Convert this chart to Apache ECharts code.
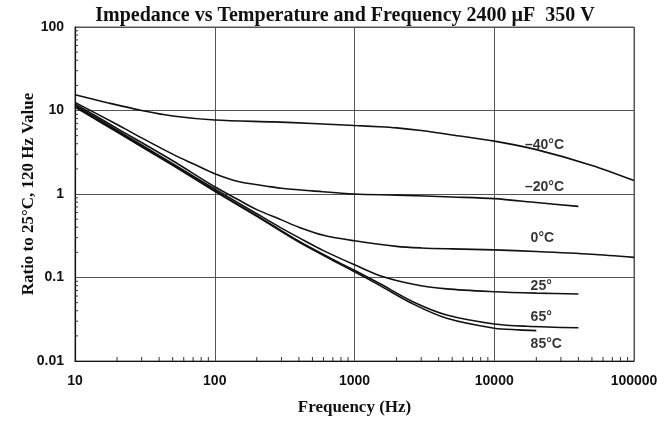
<!DOCTYPE html>
<html>
<head>
<meta charset="utf-8">
<script src="https://cdn.jsdelivr.net/npm/echarts@6/dist/echarts.min.js"></script>
<style>
html,body{margin:0;padding:0;background:#fff;}
#chart{width:668px;height:421px;}
</style>
</head>
<body>
<div id="chart"></div>
<script>
// Data: [frequency Hz, impedance ratio]
const curveM40 = [[10,15.4],[17,12.4],[30,10.0],[50,8.6],[100,7.7],[265,7.3],[500,7.0],[1000,6.6],[1500,6.4],[2000,6.2],[3000,5.75],[5000,5.1],[10000,4.3],[20000,3.4],[50000,2.2],[100000,1.45]];
const curveM20 = [[10,12.5],[20,6.8],[30,4.7],[50,3.0],[70,2.3],[100,1.75],[150,1.4],[236,1.24],[300,1.17],[500,1.09],[1000,1.0],[2000,0.97],[5000,0.92],[10000,0.88],[20000,0.79],[40000,0.71]];
const curve0 = [[10,12],[20,6.1],[50,2.5],[100,1.22],[150,0.84],[200,0.65],[300,0.49],[400,0.40],[600,0.32],[1000,0.275],[2000,0.236],[3000,0.226],[5000,0.22],[10000,0.214],[20000,0.205],[50000,0.19],[100000,0.174]];
const curve25 = [[10,11.5],[20,5.8],[50,2.3],[100,1.15],[200,0.58],[300,0.39],[400,0.30],[600,0.21],[1000,0.142],[1524,0.105],[2637,0.083],[4570,0.073],[10000,0.0676],[20000,0.065],[40000,0.0634]];
const curve65 = [[10,11.2],[20,5.6],[50,2.25],[100,1.1],[200,0.55],[400,0.272],[700,0.165],[1000,0.122],[1524,0.084],[2637,0.051],[4570,0.0356],[10000,0.0278],[17000,0.0261],[40000,0.025]];
const curve85 = [[10,11],[20,5.5],[50,2.2],[100,1.08],[200,0.54],[400,0.265],[700,0.16],[1000,0.117],[1524,0.080],[2637,0.048],[4570,0.0325],[10000,0.0247],[15000,0.0236],[20000,0.0231]];

const curveLabelText = ['\u201340\u00B0C','\u201320\u00B0C','0\u00B0C','25\u00B0','65\u00B0','85\u00B0C'];
const curveLabelAnchor = [[16600,3.84],[16600,1.21],[18200,0.295],[18200,0.0783],[18200,0.0334],[18200,0.016]];

const xMinorTicks = [];
const yMinorTicks = [];
[10,100,1000,10000].forEach(d => { for (let k = 2; k <= 9; k++) xMinorTicks.push(d * k); });
[0.01,0.1,1,10].forEach(d => { for (let k = 2; k <= 9; k++) yMinorTicks.push(+(d * k).toPrecision(3)); });

const chart = echarts.init(document.getElementById('chart'));

function lineSeries(data) {
  return {
    type: 'line', data: data, showSymbol: false, symbol: 'none', smooth: 0.3,
    lineStyle: { color: '#111', width: 1.6 }, z: 5, silent: true
  };
}

const option = {
  backgroundColor: '#fff',
  animation: false,
  title: {
    text: 'Impedance vs Temperature and Frequency 2400 \u00B5F  350 V',
    left: 340, top: 1, textAlign: 'center',
    textStyle: { fontFamily: 'Liberation Serif', fontWeight: 'bold', fontSize: 20, color: '#111' }
  },
  grid: { left: 75, right: 34, top: 27, bottom: 59, show: true, borderColor: '#555', borderWidth: 1 },
  xAxis: {
    type: 'log', logBase: 10, min: 10, max: 100000,
    name: 'Frequency (Hz)', nameLocation: 'middle', nameGap: 38,
    nameTextStyle: { fontFamily: 'Liberation Serif', fontWeight: 'bold', fontSize: 17, color: '#111' },
    axisLine: { lineStyle: { color: '#111', width: 1.2 } },
    axisTick: { show: false },
    axisLabel: { fontFamily: 'Liberation Sans', fontWeight: 'bold', fontSize: 14, color: '#111', margin: 13,
      formatter: v => String(Math.round(v)) },
    splitLine: { show: true, lineStyle: { color: '#555', width: 1 } }
  },
  yAxis: {
    type: 'log', logBase: 10, min: 0.01, max: 100,
    name: 'Ratio to 25\u00B0C, 120 Hz Value', nameLocation: 'middle', nameGap: 38,
    nameMoveOverlap: false,
    nameTextStyle: { fontFamily: 'Liberation Serif', fontWeight: 'bold', fontSize: 17, color: '#111' },
    axisLine: { show: true, lineStyle: { color: '#111', width: 1.2 } },
    axisTick: { show: false },
    axisLabel: { fontFamily: 'Liberation Sans', fontWeight: 'bold', fontSize: 14, color: '#111', margin: 11,
      formatter: v => String(+v.toPrecision(3)) },
    splitLine: { show: true, lineStyle: { color: '#555', width: 1 } }
  },
  series: [
    lineSeries(curveM40), lineSeries(curveM20), lineSeries(curve0),
    lineSeries(curve25), lineSeries(curve65), lineSeries(curve85),
    {
      type: 'scatter', symbolSize: 0, silent: true, z: 6,
      data: curveLabelAnchor.map((p, i) => ({ value: p, name: curveLabelText[i] })),
      label: { show: true, position: 'right', distance: 0, formatter: p => p.name,
        fontFamily: 'Liberation Sans', fontWeight: 'bold', fontSize: 14, color: '#000' }
    },
    {
      type: 'custom', silent: true, clip: false, z: 4,
      data: xMinorTicks.map(v => [v, 0.01]),
      renderItem: function (params, api) {
        const p = api.coord([api.value(0), api.value(1)]);
        return { type: 'line', shape: { x1: p[0], y1: p[1], x2: p[0], y2: p[1] - 4 },
          style: { stroke: '#333', lineWidth: 1 } };
      }
    },
    {
      type: 'custom', silent: true, clip: false, z: 4,
      data: yMinorTicks.map(v => [10, v]),
      renderItem: function (params, api) {
        const p = api.coord([api.value(0), api.value(1)]);
        return { type: 'line', shape: { x1: p[0], y1: p[1], x2: p[0] + 3, y2: p[1] },
          style: { stroke: '#333', lineWidth: 1 } };
      }
    }
  ]
};
chart.setOption(option);
</script>
</body>
</html>
